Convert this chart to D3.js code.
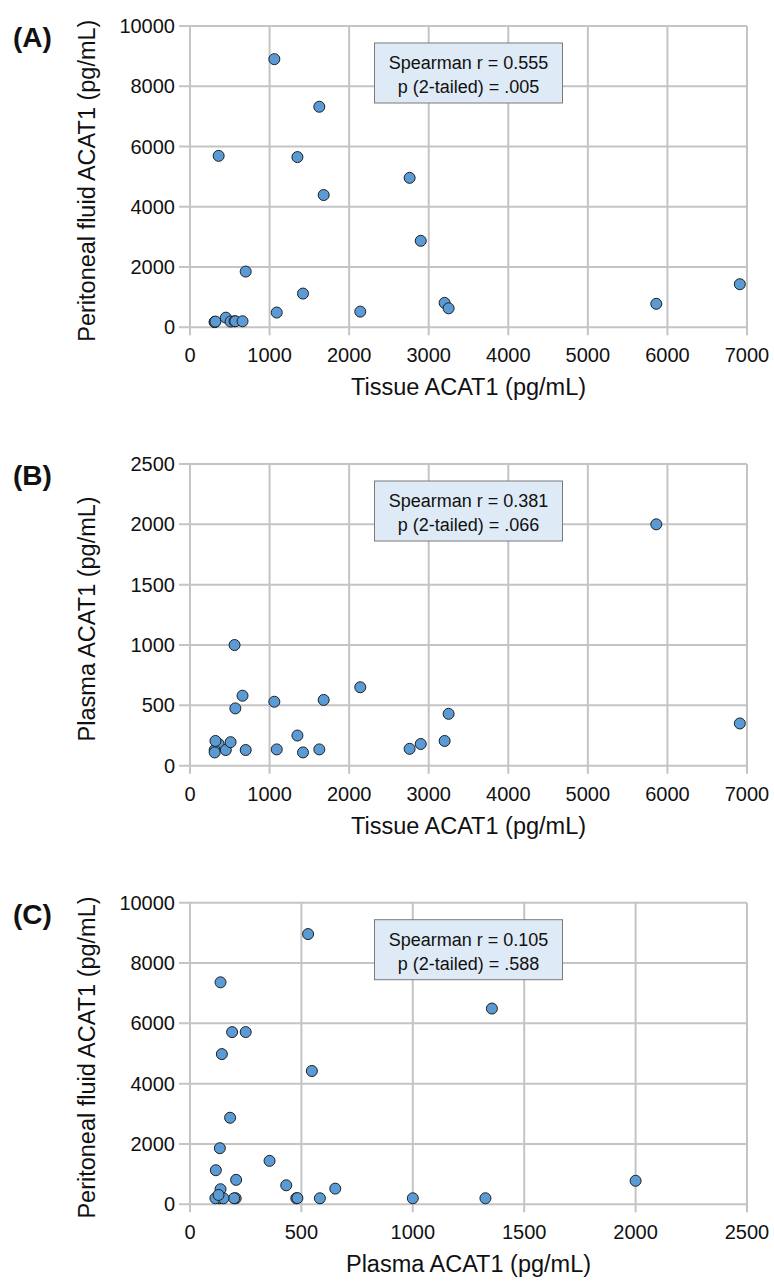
<!DOCTYPE html>
<html>
<head>
<meta charset="utf-8">
<script src="https://cdn.jsdelivr.net/npm/d3@7"></script>
<style>
  html, body { margin: 0; padding: 0; background: #fff; }
  svg { display: block; font-family: "Liberation Sans", Arial, sans-serif; }
</style>
</head>
<body>
<svg id="chart" width="774" height="1281"></svg>
<script>
// ---- Data ----
// Panel A: Tissue ACAT1 (x) vs Peritoneal fluid ACAT1 (y)
const tissueA = [1060, 1625, 360, 1350, 2760, 1680, 2900, 700, 1420, 1090, 2140, 3200, 3250, 5860, 6910, 310, 310, 320, 450, 510, 560, 570, 660];
const pfA     = [8900, 7320, 5690, 5650, 4960, 4390, 2870, 1850, 1120, 490, 520, 810, 630, 780, 1430, 180, 170, 190, 320, 190, 200, 200, 200];

// Panel B: Tissue ACAT1 (x) vs Plasma ACAT1 (y)
const tissueB = [1060, 1625, 360, 1350, 2760, 1680, 2900, 700, 1420, 1090, 2140, 3200, 3250, 5860, 6910, 310, 310, 320, 450, 510, 560, 570, 660];
const plasmaB = [530, 135, 180, 250, 140, 545, 180, 130, 110, 135, 650, 205, 430, 2000, 350, 130, 110, 205, 130, 195, 1000, 475, 580];

// Panel C: Plasma ACAT1 (x) vs Peritoneal fluid ACAT1 (y)
const plasmaC = [530, 137, 189, 250, 143, 547, 180, 134, 116, 357, 207, 432, 652, 137, 2000, 1355, 1326, 1000, 583, 477, 482, 205, 198, 132, 114, 150, 128];
const pfC     = [8960, 7360, 5710, 5710, 4980, 4420, 2870, 1860, 1130, 1440, 810, 630, 520, 500, 780, 6490, 200, 200, 200, 200, 205, 200, 200, 200, 200, 200, 310];

// Axis ticks
const tissueTicks = [0, 1000, 2000, 3000, 4000, 5000, 6000, 7000];
const pfTicks     = [0, 2000, 4000, 6000, 8000, 10000];
const plasmaTicks = [0, 500, 1000, 1500, 2000, 2500];

// Labels
const panelLabels = ["(A)", "(B)", "(C)"];
const xTitles = ["Tissue ACAT1 (pg/mL)", "Tissue ACAT1 (pg/mL)", "Plasma ACAT1 (pg/mL)"];
const yTitles = ["Peritoneal fluid ACAT1 (pg/mL)", "Plasma ACAT1 (pg/mL)", "Peritoneal fluid ACAT1 (pg/mL)"];
const statR = ["Spearman r = 0.555", "Spearman r = 0.381", "Spearman r = 0.105"];
const statP = ["p (2-tailed) = .005", "p (2-tailed) = .066", "p (2-tailed) = .588"];

// ---- Layout ----
const svg = d3.select("#chart");
const left = 190, right = 747;
const panels = [
  { top: 26,    bottom: 327.3,  xs: tissueA, ys: pfA,     xTicks: tissueTicks, yTicks: pfTicks },
  { top: 464,   bottom: 765.7,  xs: tissueB, ys: plasmaB, xTicks: tissueTicks, yTicks: plasmaTicks },
  { top: 902.7, bottom: 1204.3, xs: plasmaC, ys: pfC,     xTicks: plasmaTicks, yTicks: pfTicks }
];

const gridColor = "#c4c4c4";
const dotFill = "#5b9bd5";

panels.forEach((p, i) => {
  const x = d3.scaleLinear()
    .domain([0, d3.max(p.xTicks)])
    .range([left, right]);
  const y = d3.scaleLinear()
    .domain([0, d3.max(p.yTicks)])
    .range([p.bottom, p.top]);

  const g = svg.append("g");

  // vertical gridlines (extend below as tick marks)
  g.append("g").selectAll("line")
    .data(p.xTicks)
    .join("line")
    .attr("x1", d => x(d)).attr("x2", d => x(d))
    .attr("y1", p.top).attr("y2", p.bottom + 8)
    .attr("stroke", gridColor).attr("stroke-width", 2);

  // horizontal gridlines (extend left as tick marks)
  g.append("g").selectAll("line")
    .data(p.yTicks)
    .join("line")
    .attr("x1", left - 11).attr("x2", right)
    .attr("y1", d => y(d)).attr("y2", d => y(d))
    .attr("stroke", gridColor).attr("stroke-width", 2);

  // x tick labels
  g.append("g").selectAll("text")
    .data(p.xTicks)
    .join("text")
    .attr("x", d => x(d))
    .attr("y", p.bottom + 35)
    .attr("text-anchor", "middle")
    .attr("font-size", 20)
    .attr("fill", "#111")
    .text(d => d);

  // y tick labels
  g.append("g").selectAll("text")
    .data(p.yTicks)
    .join("text")
    .attr("x", 175)
    .attr("y", d => y(d) + 7)
    .attr("text-anchor", "end")
    .attr("font-size", 20)
    .attr("fill", "#111")
    .text(d => d);

  // axis titles
  g.append("text")
    .attr("x", (left + right) / 2)
    .attr("y", p.bottom + 68)
    .attr("text-anchor", "middle")
    .attr("font-size", 23.5)
    .attr("fill", "#111")
    .text(xTitles[i]);

  const yMid = (p.top + p.bottom) / 2 + 4;
  g.append("text")
    .attr("transform", `translate(95,${yMid}) rotate(-90)`)
    .attr("text-anchor", "middle")
    .attr("font-size", 23.5)
    .attr("fill", "#111")
    .text(yTitles[i]);

  // panel label
  g.append("text")
    .attr("x", 13)
    .attr("y", p.top + 21)
    .attr("font-size", 28)
    .attr("font-weight", "bold")
    .attr("fill", "#111")
    .text(panelLabels[i]);

  // stats box
  const bx = 374.5, bw = 188, bh = 60;
  const by = p.top + 17;
  g.append("rect")
    .attr("x", bx).attr("y", by)
    .attr("width", bw).attr("height", bh)
    .attr("fill", "#deeaf6")
    .attr("stroke", "#7a7a7a").attr("stroke-width", 1);
  g.append("text")
    .attr("x", bx + bw / 2).attr("y", by + 26)
    .attr("text-anchor", "middle").attr("font-size", 18).attr("fill", "#111")
    .text(statR[i]);
  g.append("text")
    .attr("x", bx + bw / 2).attr("y", by + 50)
    .attr("text-anchor", "middle").attr("font-size", 18).attr("fill", "#111")
    .text(statP[i]);

  // points
  g.append("g").selectAll("circle")
    .data(p.xs.map((v, k) => [v, p.ys[k]]))
    .join("circle")
    .attr("cx", d => x(d[0]))
    .attr("cy", d => y(d[1]))
    .attr("r", 5.5)
    .attr("fill", dotFill)
    .attr("stroke", "#1f1f1f")
    .attr("stroke-width", 1);
});
</script>
</body>
</html>
